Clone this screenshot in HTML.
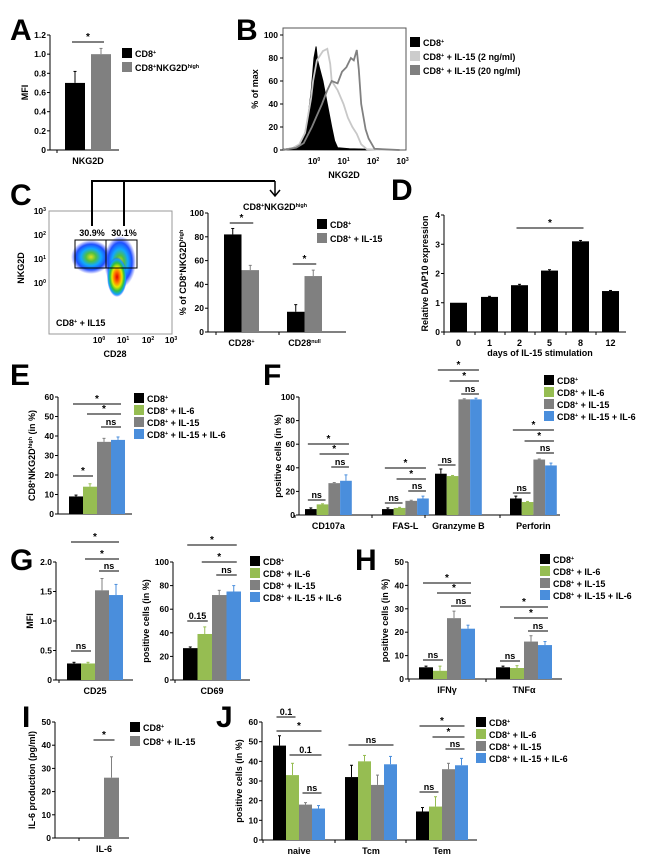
<!DOCTYPE html>
<html><head><meta charset="utf-8"><style>
html,body{margin:0;padding:0;background:#fff;}
svg{display:block;font-family:"Liberation Sans",Arial,sans-serif;}
text{font-weight:bold;fill:#000;}
</style></head><body>
<svg id="fig" width="650" height="867" viewBox="0 0 650 867" xmlns="http://www.w3.org/2000/svg">
<defs>
<radialGradient id="blob">
<stop offset="0" stop-color="#e00000"/><stop offset="0.3" stop-color="#ff8000"/><stop offset="0.5" stop-color="#e8e800"/><stop offset="0.7" stop-color="#30c040"/><stop offset="0.88" stop-color="#10a0ff"/><stop offset="1" stop-color="#3040ff" stop-opacity="0"/>
</radialGradient>
<radialGradient id="blob2">
<stop offset="0" stop-color="#e0e020"/><stop offset="0.25" stop-color="#50c040"/><stop offset="0.5" stop-color="#10a8ff"/><stop offset="0.75" stop-color="#2050ff"/><stop offset="1" stop-color="#4050ff" stop-opacity="0"/>
</radialGradient>
</defs>
</svg>
<script>
// ---------- DATA ----------
const colors4 = ['#000000','#96bd52','#808080','#4a8edc'];
const aCats = ['NKG2D'];
const aVals = [[0.7, 1.0]];
const aErrs = [[0.12, 0.06]];
const aTicks = [0, 0.2, 0.4, 0.6, 0.8, 1.0, 1.2];
const aTickLabels = ['0','0.2','0.4','0.6','0.8','1.0','1.2'];

const bTicks = [0,20,40,60,80,100];
const bBlack = [[-1.05,0.5],[-0.7,2],[-0.5,5],[-0.35,12],[-0.25,20],[-0.1,50],[0,80],[0.07,90],[0.12,78],[0.2,70],[0.3,60],[0.45,40],[0.6,20],[0.7,8],[0.8,2],[1.2,1],[2.9,0]];
const bLight = [[-1.05,0],[-0.7,2],[-0.5,5],[-0.3,15],[-0.1,45],[-0.03,60],[0.1,78],[0.3,86],[0.45,88],[0.55,75],[0.6,60],[0.8,52],[1.0,40],[1.15,28],[1.3,20],[1.45,14],[1.6,5],[1.8,0.5],[2.9,0]];
const bDark = [[-1.05,0],[-0.6,2],[-0.35,6],[-0.07,20],[0.1,30],[0.27,40],[0.45,52],[0.6,60],[0.8,58],[0.95,68],[1.1,72],[1.25,80],[1.35,78],[1.45,87],[1.52,70],[1.6,40],[1.75,18],[1.85,10],[2.05,1],[2.9,0]];

const cCats = ['CD28^{+}','CD28^{null}'];
const cVals = [[82, 52],[17, 47]];
const cErrs = [[5, 4],[6, 5]];
const pctTicks = [0,20,40,60,80,100];

const dCats = ['0','1','2','5','8','12'];
const dVals = [[1.0],[1.2],[1.6],[2.1],[3.1],[1.4]];
const dErrs = [[0],[0.02],[0.03],[0.03],[0.03],[0.02]];
const dTicks = [0,1,2,3,4];

const eVals = [[9, 14, 37, 38]];
const eErrs = [[0.7, 1.5, 1.8, 1.5]];
const eTicks = [0,10,20,30,40,50,60];

const fCats = ['CD107a','FAS-L','Granzyme B','Perforin'];
const fVals = [[5,9,27,29],[5,6,12,14],[35,33,98,98],[14,11,47,42]];
const fErrs = [[1,0.5,0.5,5],[1,0.5,0.5,2],[4,0.5,0.5,1],[2,0.5,0.5,2]];

const g1Vals = [[0.28,0.28,1.52,1.44]];
const g1Errs = [[0.02,0.02,0.2,0.18]];
const g1Ticks = [0,0.5,1,1.5,2];
const g1TickLabels = ['0','0.5','1.0','1.5','2.0'];
const g2Vals = [[27,39,72,75]];
const g2Errs = [[1,6,4,5]];

const hCats = ['IFNγ','TNFα'];
const hVals = [[5,3.5,26,21.5],[5,4.7,16,14.5]];
const hErrs = [[0.5,2,3,1.5],[0.5,1,2.5,1.5]];
const hTicks = [0,10,20,30,40,50];

const iVals = [[0, 26]];
const iErrs = [[0, 9]];
const iTicks = [0,10,20,30,40,50];

const jCats = ['naive','Tcm','Tem'];
const jVals = [[48,33,18,16],[32,40,28,38.5],[14.5,17,36,38]];
const jErrs = [[5,6,1,1.5],[6,3,5,4],[2,5,3,3.5]];
const jTicks = [0,10,20,30,40,50,60];

// ---------- HELPERS ----------
const NS='http://www.w3.org/2000/svg';
const svg=document.getElementById('fig');
function el(tag,attrs,parent){const e=document.createElementNS(NS,tag);for(const k in attrs)e.setAttribute(k,attrs[k]);(parent||svg).appendChild(e);return e;}
function txt(x,y,s,size,anchor,name,rot){
  const e=el('text',{x:x,y:y,'font-size':size,'text-anchor':anchor||'start'});
  
  
  if(rot)e.setAttribute('transform','rotate(-90 '+x+' '+y+')');
  s.split(/(\^\{[^}]*\})/).forEach(p=>{
    if(!p)return;
    if(p.startsWith('^{')){const t=el('tspan',{'baseline-shift':'super','font-size':size*0.6},e);t.textContent=p.slice(2,-1);}
    else{const t=el('tspan',{},e);t.textContent=p;}
  });
  return e;
}
function line(x1,y1,x2,y2,w,name,col){
  const l=el('line',{x1:x1,y1:y1,x2:x2,y2:y2,stroke:col||'#000','stroke-width':w||1});
  
  
  return l;
}
function legend(x,y,dy,labels,cols,prefix){
  labels.forEach((lb,i)=>{
    const r=el('rect',{x:x,y:y+i*dy,width:10,height:10,fill:cols[i]});
    
    
    txt(x+13,y+i*dy+9,lb,9,'start',prefix+'-legend-entry-'+(i+1));
  });
}
function barChart(c){
  const ys=v=>c.y0-v*(c.y0-c.yTop)/c.max;
  const bx=(g,b)=>c.starts[g]+b*(c.bw+(c.gap||0));
  line(c.x0,c.y0,c.x0,c.yTop,1,c.name+'-y-axis');
  line(c.x0,c.y0,c.xEnd,c.y0,1,c.name+'-x-axis');
  c.ticks.forEach((t,i)=>{
    line(c.x0-3,ys(t),c.x0,ys(t),1,c.name+'-y-tick');
    txt(c.x0-4,ys(t)+3,c.tickLabels?c.tickLabels[i]:String(t),8.5,'end',c.name+'-y-tick-label');
  });
  c.vals.forEach((grp,g)=>{
    grp.forEach((v,b)=>{
      const x=bx(g,b);
      const r=el('rect',{x:x,y:ys(v),width:c.bw,height:c.y0-ys(v),fill:c.colors[b]});
      
      
      const e=c.errs[g][b];
      if(e>0){
        const xc=x+c.bw/2;
        line(xc,ys(v),xc,ys(v+e),1,c.name+'-error-bar',c.colors[b]==='#000000'?'#000':c.colors[b]);
        line(xc-1.5,ys(v+e),xc+1.5,ys(v+e),1,c.name+'-error-cap',c.colors[b]==='#000000'?'#000':c.colors[b]);
      }
    });
    if(c.cats){
      const n=grp.length;
      const xc=(bx(g,0)+bx(g,n-1)+c.bw)/2;
      txt(xc,c.y0+14,c.cats[g],9,'middle',c.name+'-x-label');
      line(c.starts[g]-(c.sep||3),c.y0,c.starts[g]-(c.sep||3),c.y0+3,1,c.name+'-x-tick');
    }
  });
  (c.sig||[]).forEach(s=>{
    const x1=bx(s[0],s[1])+c.bw/2-3, x2=bx(s[2],s[3])+c.bw/2+3;
    line(x1,s[4],x2,s[4],1,c.name+'-significance-line');
    txt((x1+x2)/2,s[4]-2,s[5],s[5]==='*'?10:9,'middle',c.name+'-significance-label');
  });
  if(c.ytitle)txt(c.ytx,(c.y0+c.yTop)/2,c.ytitle,9,'middle',c.name+'-y-axis-title',true);
}
function letter(x,y,s){txt(x,y,s,30,'start','panel-letter-'+s.toLowerCase());}

// ---------- PANEL A ----------
letter(10,40,'A');
barChart({name:'panel-a',x0:50,y0:150,yTop:35,max:1.2,ticks:aTicks,tickLabels:aTickLabels,xEnd:119,
  starts:[65],bw:20,gap:6,vals:aVals,errs:aErrs,colors:['#000000','#808080'],cats:aCats,sep:8,
  sig:[[0,0,0,1,42,'*']],ytitle:'MFI',ytx:28});
legend(122,48,14,['CD8^{+}','CD8^{+}NKG2D^{high}'],['#000','#808080'],'panel-a');

// ---------- PANEL B ----------
letter(236,40,'B');
{
  const xB=l=>314+29.5*l, yB=v=>150-v*1.15;
  const box=el('rect',{x:283,y:28,width:123,height:122,fill:'none',stroke:'#555','stroke-width':1});
  
  
  bTicks.forEach(t=>{line(280,yB(t),283,yB(t),1,'panel-b-y-tick');txt(278,yB(t)+3,String(t),8.5,'end','panel-b-y-tick-label');});
  [0,1,2,3].forEach(d=>txt(xB(d),164,'10^{'+d+'}',8.5,'middle','panel-b-x-tick-label'));
  const pts=a=>a.map(p=>xB(p[0]).toFixed(1)+','+yB(p[1]).toFixed(1)).join(' ');
  const pb=el('polygon',{points:pts(bBlack),fill:'#000',stroke:'#000'});
  
  
  const pl=el('polyline',{points:pts(bLight),fill:'none',stroke:'#c8c8c8','stroke-width':1.8});
  
  
  const pd=el('polyline',{points:pts(bDark),fill:'none',stroke:'#808080','stroke-width':1.8});
  
  
  txt(344,178,'NKG2D',9,'middle','panel-b-x-axis-title');
  txt(258,89,'% of max',9,'middle','panel-b-y-axis-title',true);
  legend(410,37,14,['CD8^{+}','CD8^{+} + IL-15 (2 ng/ml)','CD8^{+} + IL-15 (20 ng/ml)'],['#000','#cccccc','#808080'],'panel-b');
}

// ---------- PANEL C ----------
letter(10,205,'C');
{
  const fr=el('rect',{x:49,y:211,width:123,height:123,fill:'none',stroke:'#999','stroke-width':1});
  
  
  const b1=el('ellipse',{cx:91,cy:257,rx:20,ry:17,fill:'url(#blob2)'});
  
  
  const b2=el('ellipse',{cx:120,cy:262,rx:16,ry:26,fill:'url(#blob2)'});
  
  
  const b3=el('ellipse',{cx:117,cy:277,rx:10,ry:20,fill:'url(#blob)'});
  
  
  const g1=el('rect',{x:75,y:240,width:31,height:28,fill:'none',stroke:'#000','stroke-width':1});
  
  
  const g2=el('rect',{x:106,y:240,width:31,height:28,fill:'none',stroke:'#000','stroke-width':1});
  
  
  txt(92,236,'30.9%',9,'middle','gate-left-percent');
  txt(124,236,'30.1%',9,'middle','gate-right-percent');
  [['10^{3}',214],['10^{2}',238],['10^{1}',262],['10^{0}',286]].forEach(a=>txt(46,a[1],a[0],8.5,'end','panel-c-flow-y-tick-label'));
  [['10^{0}',99],['10^{1}',123],['10^{2}',148],['10^{3}',171]].forEach(a=>txt(a[1],343,a[0],8.5,'middle','panel-c-flow-x-tick-label'));
  txt(56,326,'CD8^{+} + IL15',9,'start','panel-c-flow-sample-label');
  txt(115,357,'CD28',9,'middle','panel-c-flow-x-axis-title');
  txt(24,268,'NKG2D',9,'middle','panel-c-flow-y-axis-title',true);
  line(92,226,92,181,2,'bracket-left');
  line(124,226,124,181,2,'bracket-right');
  line(91,181,275,181,2,'bracket-top');
  line(275,181,275,195,1.5,'bracket-arrow-shaft');
  const ar=el('polyline',{points:'270,190 275,196 280,190',fill:'none',stroke:'#000','stroke-width':1.5});
  
  
  txt(275,210,'CD8^{+}NKG2D^{high}',9,'middle','panel-c-bar-title');
}
barChart({name:'panel-c',x0:208,y0:332,yTop:213,max:100,ticks:pctTicks,xEnd:346,
  starts:[224,287],bw:17.5,vals:cVals,errs:cErrs,colors:['#000000','#808080'],cats:cCats,sep:8,
  sig:[[0,0,0,1,223,'*'],[1,0,1,1,264,'*']],ytitle:'% of CD8^{+}NKG2D^{high}',ytx:186});
legend(317,219,14,['CD8^{+}','CD8^{+} + IL-15'],['#000','#808080'],'panel-c');

// ---------- PANEL D ----------
letter(391,200,'D');
barChart({name:'panel-d',x0:444,y0:332,yTop:215,max:4,ticks:dTicks,xEnd:626,
  starts:[450,481,511,541,572,602],bw:17,vals:dVals,errs:dErrs,colors:['#000000'],cats:dCats,sep:6,
  sig:[[2,0,4,0,228,'*']],ytitle:'Relative DAP10 expression',ytx:428});
txt(540,356,'days of IL-15 stimulation',9,'middle','panel-d-x-axis-title');

// ---------- PANEL E ----------
letter(10,385,'E');
barChart({name:'panel-e',x0:58,y0:514,yTop:397,max:60,ticks:eTicks,xEnd:132,
  starts:[69],bw:14,vals:eVals,errs:eErrs,colors:colors4,
  sig:[[0,0,0,3,404,'*'],[0,1,0,3,414,'*'],[0,2,0,3,427,'ns'],[0,0,0,1,476,'*']],
  ytitle:'CD8^{+}NKG2D^{high} (in %)',ytx:35});
legend(134,393,12,['CD8^{+}','CD8^{+} + IL-6','CD8^{+} + IL-15','CD8^{+} + IL-15 + IL-6'],colors4,'panel-e');

// ---------- PANEL F ----------
letter(263,385,'F');
barChart({name:'panel-f',x0:299,y0:515,yTop:397,max:100,ticks:pctTicks,xEnd:560,
  starts:[305,382,435,510],bw:11.7,vals:fVals,errs:fErrs,colors:colors4,cats:fCats,sep:10,
  sig:[[0,0,0,1,500,'ns'],[0,0,0,3,444,'*'],[0,1,0,3,454,'*'],[0,2,0,3,467,'ns'],
       [1,0,1,1,503,'ns'],[1,0,1,3,468,'*'],[1,1,1,3,479,'*'],[1,2,1,3,491,'ns'],
       [2,0,2,1,465,'ns'],[2,0,2,3,370,'*'],[2,1,2,3,381,'*'],[2,2,2,3,394,'ns'],
       [3,0,3,1,493,'ns'],[3,0,3,3,430,'*'],[3,1,3,3,441,'*'],[3,2,3,3,453,'ns']],
  ytitle:'positive cells (in %)',ytx:281});
legend(544,375,12,['CD8^{+}','CD8^{+} + IL-6','CD8^{+} + IL-15','CD8^{+} + IL-15 + IL-6'],colors4,'panel-f');

// ---------- PANEL G ----------
letter(10,570,'G');
barChart({name:'panel-g-cd25',x0:56,y0:680,yTop:562,max:2,ticks:g1Ticks,tickLabels:g1TickLabels,xEnd:133,
  starts:[67],bw:14,vals:g1Vals,errs:g1Errs,colors:colors4,cats:['CD25'],sep:8,
  sig:[[0,0,0,3,542,'*'],[0,1,0,3,559,'*'],[0,2,0,3,571,'ns'],[0,0,0,1,651,'ns']],
  ytitle:'MFI',ytx:33});
barChart({name:'panel-g-cd69',x0:173,y0:680,yTop:562,max:100,ticks:pctTicks,xEnd:250,
  starts:[183],bw:14.5,vals:g2Vals,errs:g2Errs,colors:colors4,cats:['CD69'],sep:8,
  sig:[[0,0,0,3,545,'*'],[0,1,0,3,562,'*'],[0,2,0,3,575,'ns'],[0,0,0,1,621,'0.15']],
  ytitle:'positive cells (in %)',ytx:149});
legend(250,556,12,['CD8^{+}','CD8^{+} + IL-6','CD8^{+} + IL-15','CD8^{+} + IL-15 + IL-6'],colors4,'panel-g');

// ---------- PANEL H ----------
letter(355,570,'H');
barChart({name:'panel-h',x0:408,y0:679,yTop:562,max:50,ticks:hTicks,xEnd:562,
  starts:[419,496],bw:14,vals:hVals,errs:hErrs,colors:colors4,cats:hCats,sep:10,
  sig:[[0,0,0,3,583,'*'],[0,1,0,3,593,'*'],[0,2,0,3,606,'ns'],[0,0,0,1,660,'ns'],
       [1,0,1,3,607,'*'],[1,1,1,3,618,'*'],[1,2,1,3,631,'ns'],[1,0,1,1,661,'ns']],
  ytitle:'positive cells (in %)',ytx:388});
legend(540,554,12,['CD8^{+}','CD8^{+} + IL-6','CD8^{+} + IL-15','CD8^{+} + IL-15 + IL-6'],colors4,'panel-h');

// ---------- PANEL I ----------
letter(22,727,'I');
barChart({name:'panel-i',x0:55,y0:838,yTop:722,max:50,ticks:iTicks,xEnd:129,
  starts:[89],bw:15,vals:iVals,errs:iErrs,colors:['#000000','#808080'],cats:['IL-6'],sep:10,
  sig:[[0,0,0,1,740,'*']],ytitle:'IL-6 production (pg/ml)',ytx:35});
legend(130,722,14,['CD8^{+}','CD8^{+} + IL-15'],['#000','#808080'],'panel-i');

// ---------- PANEL J ----------
letter(216,727,'J');
barChart({name:'panel-j',x0:262,y0:840,yTop:722,max:60,ticks:jTicks,xEnd:477,
  starts:[273,345,416],bw:13,vals:jVals,errs:jErrs,colors:colors4,cats:jCats,sep:10,
  sig:[[0,0,0,1,717,'0.1'],[0,0,0,3,731,'*'],[0,1,0,3,755,'0.1'],[0,2,0,3,793,'ns'],
       [1,0,1,3,745,'ns'],
       [2,0,2,3,726,'*'],[2,1,2,3,737,'*'],[2,2,2,3,749,'ns'],[2,0,2,1,792,'ns']],
  ytitle:'positive cells (in %)',ytx:242});
legend(476,717,12,['CD8^{+}','CD8^{+} + IL-6','CD8^{+} + IL-15','CD8^{+} + IL-15 + IL-6'],colors4,'panel-j');
</script>
</body></html>
